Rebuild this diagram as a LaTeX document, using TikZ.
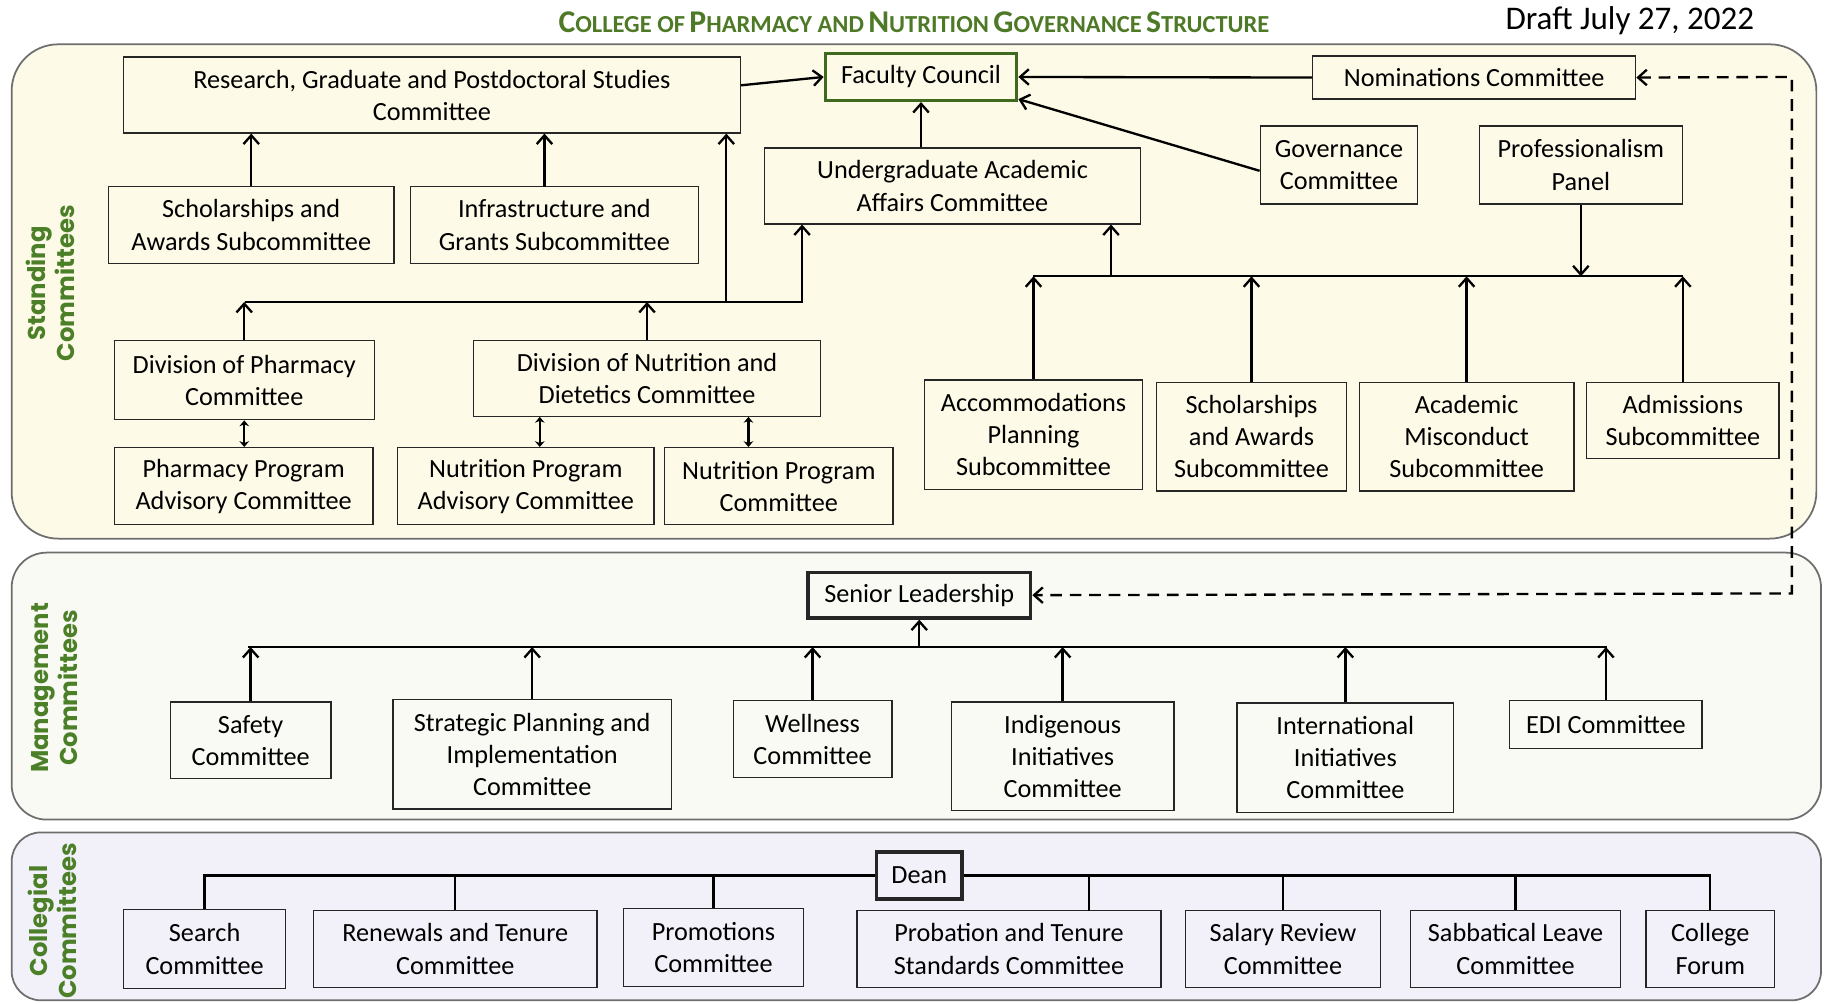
\documentclass[tikz,border=0pt]{standalone}
\usepackage{fontspec}
\setmainfont{Carlito}
\newfontfamily\sidefont{Poppins}
\usetikzlibrary{arrows.meta}
\definecolor{cream}{RGB}{253,250,232}
\definecolor{mgmt}{RGB}{250,250,245}
\definecolor{coll}{RGB}{242,240,249}
\definecolor{tgreen}{RGB}{78,122,39}
\definecolor{fcgreen}{RGB}{62,105,30}
\definecolor{sgreen}{RGB}{76,128,40}
\definecolor{panelline}{RGB}{110,110,110}
\newcommand\bx[7][sbox]{\node[#1,minimum width={(#5-#3)*0.6pt},minimum height={(#6-#4)*0.6pt}] (#2) at ({(#3+#5)/2},{(#4+#6)/2}) {#7};}
\newcommand\SCx[2]{{\fontsize{16.3}{17}\selectfont #1}{\fontsize{12.6}{17}\selectfont #2}}
\begin{document}
\begin{tikzpicture}[x=0.6pt,y=-0.6pt,
  every node/.style={font=\fontsize{13.5}{16.5}\selectfont},
  basebox/.style={draw=black!85,line width=0.7pt,align=center,inner sep=0pt},
  sbox/.style={basebox,fill=cream},
  mbox/.style={basebox,fill=mgmt},
  cbox/.style={basebox,fill=coll},
  ln/.style={line width=1.2pt,black},
  arr/.style={ln,-{Straight Barb[length=4.5pt,width=8pt]}},
  darr/.style={ln,{Stealth[length=3pt,width=5pt]}-{Stealth[length=3pt,width=5pt]}},
  dsh/.style={ln,dash pattern=on 6pt off 4pt,{Straight Barb[length=4.5pt,width=8pt]}-{Straight Barb[length=4.5pt,width=8pt]}},
  panel/.style={draw=panelline,line width=0.9pt},
  side/.style={font=\sidefont\bfseries\fontsize{12.5}{15}\selectfont,text=sgreen,align=center,rotate=90}]
\useasboundingbox (0,0) rectangle (1568,861);
\fill[white] (0,0) rectangle (1568,861);

% panels
\draw[panel,fill=cream,rounded corners=24pt] (10,38) rectangle (1558,462);
\draw[panel,fill=mgmt,rounded corners=18pt] (10,474) rectangle (1562,703);
\draw[panel,fill=coll,rounded corners=15pt] (10,714) rectangle (1562,858);

% title
\node[text=tgreen,font=\bfseries] (title) at (784,19) {\SCx{C}{OLLEGE OF} \SCx{P}{HARMACY AND} \SCx{N}{UTRITION} \SCx{G}{OVERNANCE} \SCx{S}{TRUCTURE}};
\node[font=\fontsize{17}{20}\selectfont] (draft) at (1398,18) {Draft July 27, 2022};

% side labels
\node[side] (lab1) at (43,243) {Standing\\Committees};
\node[side] (lab2) at (47,590) {Management\\Committees};
\node[side] (lab3) at (45,790) {Collegial\\Committees};

% standing committees
\bx{rg}{106}{49}{635}{114}{Research, Graduate and Postdoctoral Studies\\Committee}
\node[sbox,draw=fcgreen,line width=1.8pt,minimum width={164*0.6pt},minimum height={40*0.6pt}] (fc) at (790,66) {Faculty Council};
\bx{nom}{1126}{48}{1403}{85}{Nominations Committee}
\bx{gov}{1081}{108}{1216}{175}{Governance\\Committee}
\bx{pp}{1269}{108}{1443}{175}{Professionalism\\Panel}
\bx{ugr}{656}{127}{978}{192}{Undergraduate Academic\\Affairs Committee}
\bx{sa1}{93}{160}{338}{226}{Scholarships and\\Awards Subcommittee}
\bx{ig}{352}{160}{599}{226}{Infrastructure and\\Grants Subcommittee}
\bx{dph}{98}{292}{321}{360}{Division of Pharmacy\\Committee}
\bx{dnd}{406}{292}{704}{357}{Division of Nutrition and\\Dietetics Committee}
\bx{ppa}{98}{384}{320}{450}{Pharmacy Program\\Advisory Committee}
\bx{npa}{341}{384}{561}{450}{Nutrition Program\\Advisory Committee}
\bx{npc}{570}{384}{766}{450}{Nutrition Program\\Committee}
\bx{acc}{793}{326}{980}{420}{Accommodations\\Planning\\Subcommittee}
\bx{sa2}{992}{328}{1155}{421}{Scholarships\\and Awards\\Subcommittee}
\bx{am}{1166}{328}{1350}{421}{Academic\\Misconduct\\Subcommittee}
\bx{adm}{1361}{328}{1526}{393}{Admissions\\Subcommittee}

\draw[arr] ([yshift=5pt]rg.east) -- (fc.west);
\draw[arr] (nom.west) -- (fc.east);
\draw[arr] ([yshift=-3pt]gov.west) -- ([yshift=1.5pt]fc.south east);
\draw[arr] (fc.south |- ugr.north) -- (fc.south);
\draw[arr] (sa1.north) -- (sa1.north |- rg.south);
\coordinate (igx) at (467,160);
\draw[arr] (igx) -- (igx |- rg.south);

\coordinate (bl1) at (210,259);
\coordinate (bl2) at (688,259);
\coordinate (bj) at (623,259);
\draw[arr] (bl1) -- (bl2) -- (bl2 |- ugr.south);
\draw[arr] (bj) -- (bj |- rg.south);
\draw[arr] (dph.north) -- (dph.north |- bl1);
\draw[arr] (dnd.north) -- (dnd.north |- bl1);

\draw[darr] (dph.south) -- (ppa.north -| dph.south);
\coordinate (d1) at (463,370);
\coordinate (d2) at (642,370);
\draw[darr] (d1 |- dnd.south) -- (d1 |- npa.north);
\draw[darr] (d2 |- dnd.south) -- (d2 |- npc.north);

\coordinate (br1) at (886,237);
\coordinate (br2) at (1444,237);
\coordinate (brj) at (953,237);
\draw[ln] (br1) -- (br2);
\draw[arr] (brj) -- (brj |- ugr.south);
\draw[arr] (pp.south) -- (pp.south |- br1);
\draw[arr] (acc.north) -- (acc.north |- br1);
\draw[arr] (sa2.north) -- (sa2.north |- br1);
\draw[arr] (am.north) -- (am.north |- br1);
\draw[arr] (adm.north) -- (adm.north |- br1);

% management committees
\node[mbox,line width=1.8pt,minimum width={191*0.6pt},minimum height={39*0.6pt}] (sl) at (788.5,510.5) {Senior Leadership};
\bx[mbox]{saf}{146}{602}{284}{668}{Safety\\Committee}
\bx[mbox]{spi}{337}{600}{576}{694}{Strategic Planning and\\Implementation\\Committee}
\bx[mbox]{wel}{629}{601}{765}{667}{Wellness\\Committee}
\bx[mbox]{ind}{816}{602}{1007}{695}{Indigenous\\Initiatives\\Committee}
\bx[mbox]{int}{1061}{603}{1247}{697}{International\\Initiatives\\Committee}
\bx[mbox]{edi}{1295}{601}{1460}{642}{EDI Committee}

\coordinate (mb1) at (213,555);
\coordinate (mb2) at (1378,555);
\draw[ln] (mb1) -- (mb2);
\draw[arr] (sl.south |- mb1) -- (sl.south);
\draw[arr] (saf.north) -- (saf.north |- mb1);
\draw[arr] (spi.north) -- (spi.north |- mb1);
\draw[arr] (wel.north) -- (wel.north |- mb1);
\draw[arr] (ind.north) -- (ind.north |- mb1);
\draw[arr] (int.north) -- (int.north |- mb1);
\draw[arr] (edi.north) -- (edi.north |- mb1);

% dashed link
\coordinate (dtop) at (1537,66);
\coordinate (dbot) at (1537,509);
\draw[dsh] (nom.east) -- (dtop) -- (dbot) -- (sl.east);

% collegial committees
\node[cbox,line width=1.8pt,minimum width={73*0.6pt},minimum height={40*0.6pt}] (dean) at (788.5,751) {Dean};
\bx[cbox]{sea}{106}{780}{245}{848}{Search\\Committee}
\bx[cbox]{ren}{269}{781}{512}{847}{Renewals and Tenure\\Committee}
\bx[cbox]{pro}{535}{779}{689}{846}{Promotions\\Committee}
\bx[cbox]{pts}{735}{781}{996}{847}{Probation and Tenure\\Standards Committee}
\bx[cbox]{sal}{1017}{781}{1184}{847}{Salary Review\\Committee}
\bx[cbox]{sab}{1210}{781}{1390}{847}{Sabbatical Leave\\Committee}
\bx[cbox]{cf}{1412}{781}{1522}{847}{College\\Forum}

\draw[ln] (dean.west) -| (sea.north);
\draw[ln] (dean.east) -| (cf.north);
\draw[ln] (ren.north) -- (ren.north |- dean.west);
\draw[ln] (pro.north) -- (pro.north |- dean.west);
\coordinate (ptx) at (934,781);
\draw[ln] (ptx) -- (ptx |- dean.east);
\draw[ln] (sal.north) -- (sal.north |- dean.east);
\draw[ln] (sab.north) -- (sab.north |- dean.east);
\end{tikzpicture}
\end{document}
